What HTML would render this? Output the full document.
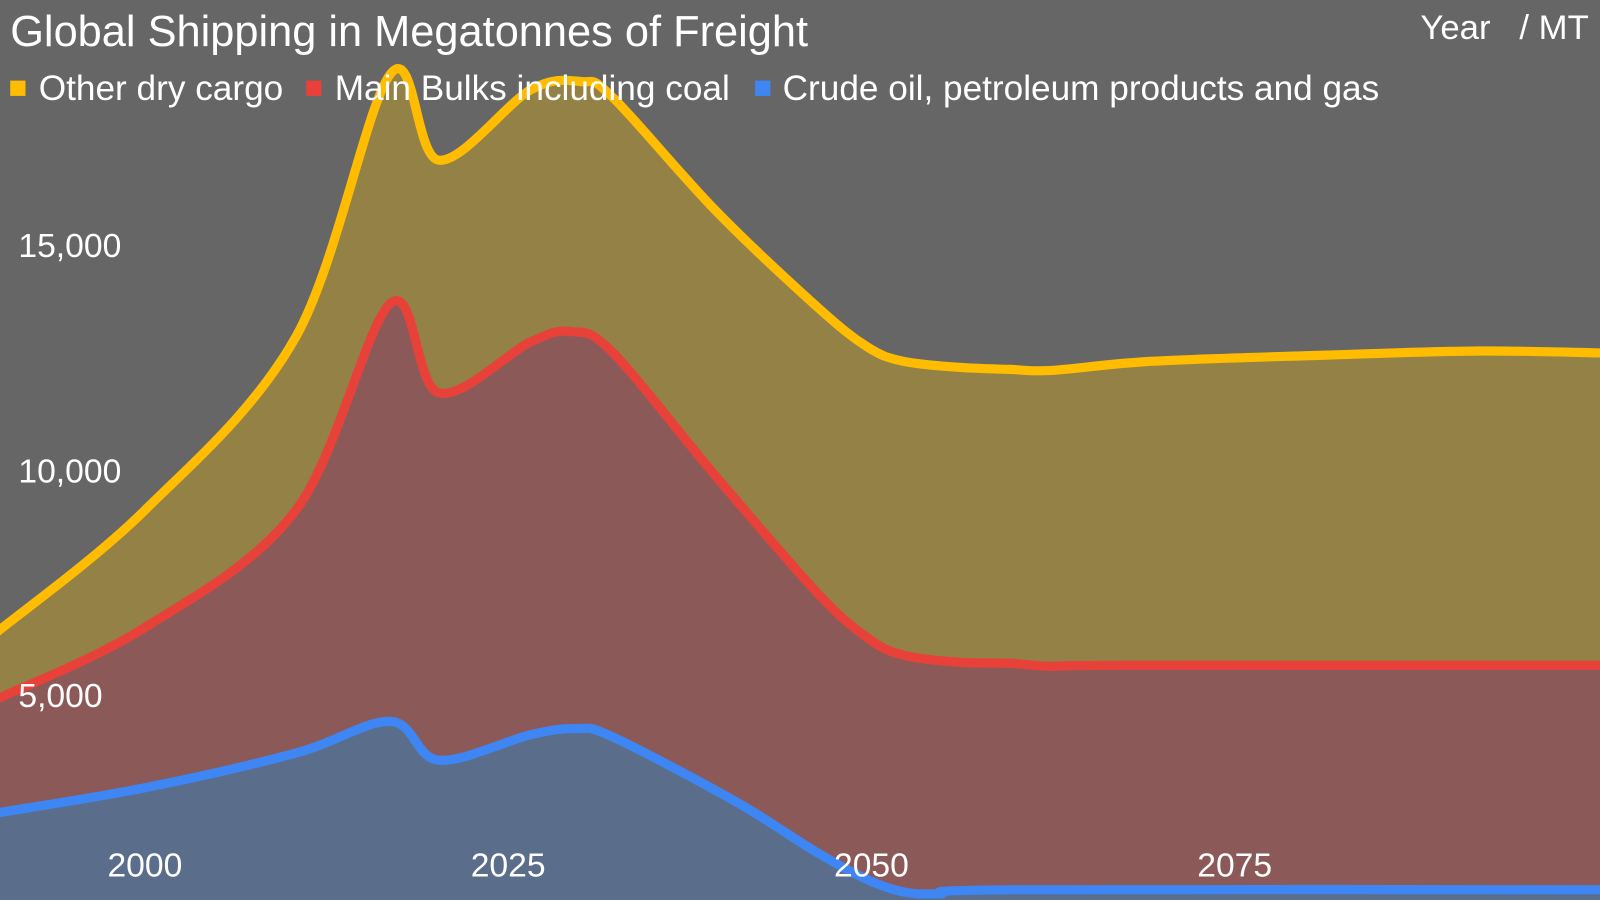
<!DOCTYPE html>
<html><head><meta charset="utf-8"><style>
html,body{margin:0;padding:0;background:#666666;}
svg{display:block;font-family:"Liberation Sans",Arial,sans-serif;}
</style></head><body>
<svg id="c" width="1600" height="900" viewBox="0 0 1568 882" preserveAspectRatio="none" xmlns="http://www.w3.org/2000/svg">
<rect x="-10" y="-10" width="1600" height="910" fill="#666666"/>
<path id="ya" fill="#948146"/>
<path id="ra" fill="#8b5a58"/>
<path id="ba" fill="#5a6e8c"/>
<path id="yl" fill="none" stroke="#ffbc00" stroke-width="9" stroke-linejoin="round"/>
<path id="rl" fill="none" stroke="#e8413a" stroke-width="9" stroke-linejoin="round"/>
<path id="bl" fill="none" stroke="#3f86f5" stroke-width="9" stroke-linejoin="round"/>
<g fill="#ffffff" font-size="33">
<text x="18" y="252">15,000</text>
<text x="18" y="473">10,000</text>
<text x="18" y="693">5,000</text>
<text x="142" y="859" text-anchor="middle">2000</text>
<text x="498" y="859" text-anchor="middle">2025</text>
<text x="854" y="859" text-anchor="middle">2050</text>
<text x="1210" y="859" text-anchor="middle">2075</text>
</g>
<text x="10" y="45" fill="#ffffff" font-size="42.5">Global Shipping in Megatonnes of Freight</text>
<text x="1557" y="38" fill="#ffffff" font-size="34" text-anchor="end" xml:space="preserve">Year   / MT</text>
<g font-size="34.5" fill="#ffffff">
<rect x="10" y="79" width="15" height="15" fill="#ffbc00"/><text x="38" y="98">Other dry cargo</text>
<rect x="300" y="79" width="15" height="15" fill="#e8413a"/><text x="328" y="98">Main Bulks including coal</text>
<rect x="740" y="79" width="15" height="15" fill="#3f86f5"/><text x="767" y="98">Crude oil, petroleum products and gas</text>
</g>
</svg>
<script>
function cr(p){let d="M"+p[0][0]+","+p[0][1];for(let i=0;i<p.length-1;i++){const a=p[i-1]||p[i],b=p[i],c=p[i+1],e=p[i+2]||c;
d+=" C"+(b[0]+(c[0]-a[0])/6).toFixed(1)+","+(b[1]+(c[1]-a[1])/6).toFixed(1)+" "+(c[0]-(e[0]-b[0])/6).toFixed(1)+","+(c[1]-(e[1]-b[1])/6).toFixed(1)+" "+c[0]+","+c[1];}return d;}
const Y=[[-5,621],[142,500],[290,330],[383,72],[430,157],[520,88],[570,80],[600,95],[700,205],[800,300],[850,340],[885,354],[940,360],[990,362],[1030,363],[1130,354],[1300,348],[1450,344],[1575,346]];
const R=[[-5,686],[142,615],[290,500],[383,297],[430,385],[520,335],[560,325],[600,345],[700,465],[800,580],[850,625],[885,642],[940,649],[990,650],[1030,653],[1100,652],[1575,652]];
const B=[[-5,797],[142,772],[290,738],[383,707],[430,745],[520,720],[565,714],[600,722],[720,785],[800,835],[850,862],[885,874],[920,876],[990,872],[1575,872]];
function set(id,p){const d=cr(p);document.getElementById(id+"l").setAttribute("d",d);document.getElementById(id+"a").setAttribute("d",d+" L1575,890 L-5,890 Z");}
set("y",Y);set("r",R);set("b",B);
</script>
</body></html>
